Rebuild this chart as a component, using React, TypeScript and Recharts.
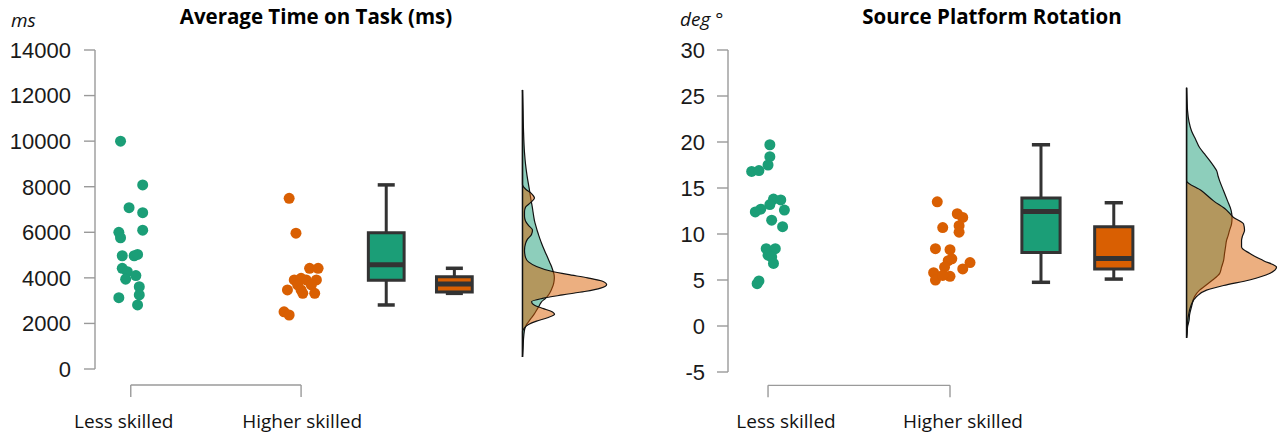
import React from 'react';
import { ComposedChart, Scatter, Area, XAxis, YAxis, ReferenceLine, ReferenceArea } from 'recharts';

const GREEN = '#1b9e77';
const ORANGE = '#d95f02';
const DARK = '#333333';
const AXIS_GRAY = '#9a9a9a';

const GROUPS = ['Less skilled', 'Higher skilled'];
const BOX_POS = [2.5, 2.9];
const DENS_BASE = 3.3;

// ---------- Panel 1: Average Time on Task ----------
const TIME_TITLE = 'Average Time on Task (ms)';
const TIME_UNIT = 'ms';
const TIME_TICKS = [0, 2000, 4000, 6000, 8000, 10000, 12000, 14000];
const TIME_LESS = [
  { x: 0.94, v: 10000 }, { x: 1.07, v: 8080 }, { x: 0.99, v: 7080 }, { x: 1.07, v: 6860 },
  { x: 1.07, v: 6090 }, { x: 0.93, v: 6000 }, { x: 0.94, v: 5760 }, { x: 0.95, v: 4970 },
  { x: 1.02, v: 4970 }, { x: 1.04, v: 5030 }, { x: 0.95, v: 4420 }, { x: 0.98, v: 4270 },
  { x: 1.03, v: 4100 }, { x: 0.97, v: 3940 }, { x: 1.05, v: 3610 }, { x: 1.05, v: 3250 },
  { x: 0.93, v: 3130 }, { x: 1.04, v: 2810 },
];
const TIME_HIGHER = [
  { x: 1.93, v: 7490 }, { x: 1.97, v: 5960 }, { x: 2.05, v: 4420 }, { x: 2.1, v: 4420 },
  { x: 1.96, v: 3910 }, { x: 2.0, v: 3980 }, { x: 2.03, v: 3910 }, { x: 2.09, v: 3910 },
  { x: 2.06, v: 3690 }, { x: 1.98, v: 3690 }, { x: 2.0, v: 3470 }, { x: 2.08, v: 3320 },
  { x: 2.01, v: 3320 }, { x: 1.92, v: 3470 }, { x: 1.9, v: 2510 }, { x: 1.93, v: 2370 },
];
const TIME_BOX_LESS = { min: 2810, q1: 3900, median: 4570, q3: 5980, max: 8080 };
const TIME_BOX_HIGHER = { min: 3320, q1: 3380, median: 3730, q3: 4050, max: 4420 };
const TIME_DENS = [
  { v: 12250, less: 0, higher: 0 }, { v: 11500, less: 0.5, higher: 0 }, { v: 10500, less: 1, higher: 0 },
  { v: 9500, less: 2, higher: 0 }, { v: 9000, less: 3, higher: 0 }, { v: 8500, less: 4.5, higher: 0 },
  { v: 8100, less: 6, higher: 0 }, { v: 7900, less: 6.8, higher: 3 }, { v: 7700, less: 7.5, higher: 9 },
  { v: 7500, less: 8.2, higher: 12 }, { v: 7300, less: 9, higher: 8 }, { v: 7100, less: 9.8, higher: 3 },
  { v: 6900, less: 10.5, higher: 2 }, { v: 6700, less: 11.2, higher: 2 }, { v: 6500, less: 12, higher: 3 },
  { v: 6300, less: 13.2, higher: 6 }, { v: 6100, less: 14.5, higher: 10 }, { v: 5900, less: 16, higher: 9 },
  { v: 5700, less: 17.5, higher: 5 }, { v: 5500, less: 19.2, higher: 3 }, { v: 5200, less: 22, higher: 2 },
  { v: 4900, less: 25, higher: 3 }, { v: 4700, less: 27, higher: 6 }, { v: 4500, less: 29, higher: 14 },
  { v: 4300, less: 30.5, higher: 28 }, { v: 4150, less: 31.5, higher: 45 }, { v: 4000, less: 31.8, higher: 65 },
  { v: 3850, less: 31.5, higher: 80 }, { v: 3700, less: 30.8, higher: 84 }, { v: 3550, less: 29.5, higher: 78 },
  { v: 3400, less: 28, higher: 62 }, { v: 3250, less: 26, higher: 40 }, { v: 3100, less: 23, higher: 20 },
  { v: 2950, less: 19, higher: 9 }, { v: 2800, less: 17, higher: 12 }, { v: 2650, less: 15, higher: 21 },
  { v: 2500, less: 13, higher: 30 }, { v: 2400, less: 11.5, higher: 32 }, { v: 2250, less: 9, higher: 25 },
  { v: 2100, less: 6.5, higher: 14 }, { v: 1950, less: 4, higher: 6 }, { v: 1800, less: 2.5, higher: 2 },
  { v: 1650, less: 1.8, higher: 0 }, { v: 1300, less: 1, higher: 0 }, { v: 900, less: 0.6, higher: 0 },
  { v: 530, less: 0, higher: 0 },
];

// ---------- Panel 2: Source Platform Rotation ----------
const ROT_TITLE = 'Source Platform Rotation';
const ROT_UNIT = 'deg °';
const ROT_TICKS = [-5, 0, 5, 10, 15, 20, 25, 30];
const ROT_LESS = [
  { x: 1.01, v: 19.7 }, { x: 1.01, v: 18.4 }, { x: 1.0, v: 17.5 }, { x: 0.91, v: 16.8 },
  { x: 0.95, v: 16.9 }, { x: 1.03, v: 13.8 }, { x: 1.07, v: 13.7 }, { x: 1.01, v: 13.2 },
  { x: 0.96, v: 12.7 }, { x: 0.93, v: 12.4 }, { x: 1.09, v: 12.6 }, { x: 1.02, v: 11.5 },
  { x: 1.08, v: 10.8 }, { x: 0.99, v: 8.4 }, { x: 1.04, v: 8.4 }, { x: 1.0, v: 7.7 },
  { x: 1.02, v: 7.5 }, { x: 1.03, v: 6.8 }, { x: 0.95, v: 4.9 }, { x: 0.94, v: 4.6 },
];
const ROT_HIGHER = [
  { x: 1.93, v: 13.5 }, { x: 2.04, v: 12.2 }, { x: 2.07, v: 11.8 }, { x: 1.96, v: 10.7 },
  { x: 2.05, v: 10.9 }, { x: 2.05, v: 10.2 }, { x: 1.92, v: 8.4 }, { x: 2.0, v: 8.3 },
  { x: 1.99, v: 7.1 }, { x: 1.97, v: 6.4 }, { x: 2.11, v: 6.9 }, { x: 2.07, v: 6.2 },
  { x: 1.91, v: 5.8 }, { x: 1.92, v: 5.0 }, { x: 2.0, v: 5.4 }, { x: 1.96, v: 5.5 },
  { x: 2.01, v: 7.3 },
];
const ROT_BOX_LESS = { min: 4.75, q1: 8.0, median: 12.45, q3: 13.9, max: 19.7 };
const ROT_BOX_HIGHER = { min: 5.1, q1: 6.2, median: 7.35, q3: 10.8, max: 13.4 };
const ROT_DENS = [
  { v: 25.9, less: 0, higher: 0 }, { v: 24.5, less: 0.5, higher: 0 }, { v: 23.4, less: 1, higher: 0 },
  { v: 22.2, less: 2.5, higher: 0 }, { v: 21.2, less: 5, higher: 0 }, { v: 20.3, less: 9, higher: 0 },
  { v: 19.4, less: 13, higher: 0 }, { v: 18.7, less: 18, higher: 0 }, { v: 18.0, less: 23, higher: 0 },
  { v: 17.4, less: 27, higher: 0 }, { v: 16.9, less: 30, higher: 0 }, { v: 16.3, less: 31.5, higher: 0 },
  { v: 15.8, less: 33, higher: 0 }, { v: 14.7, less: 37, higher: 15 }, { v: 13.6, less: 41, higher: 27 },
  { v: 12.6, less: 44.5, higher: 40 }, { v: 11.8, less: 45.5, higher: 47 }, { v: 11.1, less: 45, higher: 57 },
  { v: 10.4, less: 43, higher: 58 }, { v: 9.8, less: 41.5, higher: 56 }, { v: 9.3, less: 40, higher: 55 },
  { v: 8.6, less: 39, higher: 55 }, { v: 7.9, less: 38, higher: 63 }, { v: 7.1, less: 37, higher: 77 },
  { v: 6.4, less: 35, higher: 90 }, { v: 5.7, less: 33, higher: 83 }, { v: 5.0, less: 26, higher: 63 },
  { v: 4.4, less: 19, higher: 37 }, { v: 3.9, less: 13, higher: 20 }, { v: 3.2, less: 8, higher: 10 },
  { v: 2.1, less: 5, higher: 4 }, { v: 1.2, less: 3, higher: 2 }, { v: 0.6, less: 2.5, higher: 1.2 },
  { v: -0.1, less: 1, higher: 0.8 }, { v: -0.8, less: 0.5, higher: 0.4 }, { v: -1.3, less: 0, higher: 0 },
];

type Pt = { x: number; v: number };
type Box = { min: number; q1: number; median: number; q3: number; max: number };
type Dens = { v: number; less: number; higher: number };

const TICK_FONT = { fontFamily: '"Liberation Sans", Arial, sans-serif', fontSize: 22, fill: '#1a1a1a' };

function dotShape(color: string) {
  return (p: any) => <circle cx={p.cx} cy={p.cy} r={5.5} fill={color} stroke="none" />;
}

function boxElements(b: Box, pos: number, color: string, key: string) {
  const half = 0.105;
  const cap = 0.05;
  return [
    <ReferenceLine key={key + 'wu'} segment={[{ x: pos, y: b.q3 }, { x: pos, y: b.max }]} stroke={DARK} strokeWidth={3} ifOverflow="visible" />,
    <ReferenceLine key={key + 'wl'} segment={[{ x: pos, y: b.q1 }, { x: pos, y: b.min }]} stroke={DARK} strokeWidth={3} ifOverflow="visible" />,
    <ReferenceLine key={key + 'cu'} segment={[{ x: pos - cap, y: b.max }, { x: pos + cap, y: b.max }]} stroke={DARK} strokeWidth={3.5} ifOverflow="visible" />,
    <ReferenceLine key={key + 'cl'} segment={[{ x: pos - cap, y: b.min }, { x: pos + cap, y: b.min }]} stroke={DARK} strokeWidth={3.5} ifOverflow="visible" />,
    <ReferenceArea key={key + 'b'} x1={pos - half} x2={pos + half} y1={b.q1} y2={b.q3} fill={color} fillOpacity={1} stroke={DARK} strokeWidth={3} ifOverflow="visible" />,
    <ReferenceLine key={key + 'm'} segment={[{ x: pos - half, y: b.median }, { x: pos + half, y: b.median }]} stroke={DARK} strokeWidth={5} ifOverflow="visible" />,
  ];
}

function Panel(props: {
  width: number; ticks: number[]; yDomain: [number, number]; xDomain: [number, number];
  less: Pt[]; higher: Pt[]; boxLess: Box; boxHigher: Box; dens: Dens[]; densScale: number;
  bracket: [number, number]; yAxisWidth: number; tickMargin: number; marginBottom: number; labelOffset: number;
  labelDx: number[];
}) {
  const p = props;
  const densTop = p.dens[0].v;
  const densBottom = p.dens[p.dens.length - 1].v;
  const CatTick = (t: any) => {
    const i = Math.round(t.payload.value) - 1;
    return (
      <text x={t.x + p.labelDx[i]} y={t.y + p.labelOffset} textAnchor="middle" fontFamily='"Open Sans", sans-serif' fontSize={19} fill="#111">
        {GROUPS[i]}
      </text>
    );
  };
  return (
    <ComposedChart
      width={p.width}
      height={436}
      layout="vertical"
      data={p.dens}
      margin={{ top: 50, right: 0, bottom: p.marginBottom, left: 0 }}
    >
      <XAxis
        type="number"
        dataKey="x"
        domain={p.xDomain}
        allowDataOverflow
        ticks={[1, 2]}
        tick={CatTick}
        axisLine={false}
        tickLine={false}
        tickSize={0}
        tickMargin={0}
        height={60}
        interval={0}
      />
      <YAxis
        type="number"
        dataKey="v"
        reversed
        domain={p.yDomain}
        allowDataOverflow
        ticks={p.ticks}
        interval={0}
        width={p.yAxisWidth}
        tick={TICK_FONT}
        tickSize={11}
        tickMargin={p.tickMargin}
        axisLine={{ stroke: AXIS_GRAY, strokeWidth: 1.4 }}
        tickLine={{ stroke: AXIS_GRAY, strokeWidth: 1.4 }}
      />
      <Area
        type="monotone"
        dataKey={(r: Dens) => DENS_BASE + r.less * p.densScale}
        baseValue={DENS_BASE}
        fill={GREEN}
        fillOpacity={0.5}
        stroke="#111"
        strokeWidth={1.2}
        dot={false}
        activeDot={false}
        isAnimationActive={false}
      />
      <Area
        type="monotone"
        dataKey={(r: Dens) => DENS_BASE + r.higher * p.densScale}
        baseValue={DENS_BASE}
        fill={ORANGE}
        fillOpacity={0.5}
        stroke="#111"
        strokeWidth={1.2}
        dot={false}
        activeDot={false}
        isAnimationActive={false}
      />
      <ReferenceLine segment={[{ x: DENS_BASE, y: densTop }, { x: DENS_BASE, y: densBottom }]} stroke="#111" strokeWidth={1.5} ifOverflow="visible" />
      <Scatter data={p.less} fill={GREEN} shape={dotShape(GREEN)} isAnimationActive={false} />
      <Scatter data={p.higher} fill={ORANGE} shape={dotShape(ORANGE)} isAnimationActive={false} />
      {boxElements(p.boxLess, BOX_POS[0], GREEN, 'l')}
      {boxElements(p.boxHigher, BOX_POS[1], ORANGE, 'h')}
      <ReferenceLine segment={[{ x: 1, y: p.bracket[0] }, { x: 2, y: p.bracket[0] }]} stroke={AXIS_GRAY} strokeWidth={1.4} ifOverflow="visible" />
      <ReferenceLine segment={[{ x: 1, y: p.bracket[0] }, { x: 1, y: p.bracket[1] }]} stroke={AXIS_GRAY} strokeWidth={1.4} ifOverflow="visible" />
      <ReferenceLine segment={[{ x: 2, y: p.bracket[0] }, { x: 2, y: p.bracket[1] }]} stroke={AXIS_GRAY} strokeWidth={1.4} ifOverflow="visible" />
    </ComposedChart>
  );
}

export default function App() {
  return (
    <div style={{ position: 'absolute', left: 0, top: 0, width: 1283, height: 436, background: '#fff', overflow: 'hidden' }}>
      <div style={{ position: 'absolute', left: 0, top: 0 }}>
        <Panel
          width={640}
          ticks={TIME_TICKS}
          yDomain={[0, 14000]}
          xDomain={[0.79, 3.99]}
          less={TIME_LESS}
          higher={TIME_HIGHER}
          boxLess={TIME_BOX_LESS}
          boxHigher={TIME_BOX_HIGHER}
          dens={TIME_DENS}
          densScale={1 / 170}
          bracket={[-700, -1230]}
          yAxisWidth={95}
          tickMargin={13}
          marginBottom={7}
          labelOffset={59}
          labelDx={[-7, 1]}
        />
      </div>
      <div style={{ position: 'absolute', left: 640, top: 0 }}>
        <Panel
          width={643}
          ticks={ROT_TICKS}
          yDomain={[-5, 30]}
          xDomain={[0.78, 3.83]}
          less={ROT_LESS}
          higher={ROT_HIGHER}
          boxLess={ROT_BOX_LESS}
          boxHigher={ROT_BOX_HIGHER}
          dens={ROT_DENS}
          densScale={1 / 182}
          bracket={[-6.45, -7.75]}
          yAxisWidth={88}
          tickMargin={12}
          marginBottom={4}
          labelOffset={56}
          labelDx={[18, 13]}
        />
      </div>
      <svg width={1283} height={436} style={{ position: 'absolute', left: 0, top: 0, pointerEvents: 'none' }}>
        <text x={316} y={24} textAnchor="middle" fontFamily='"Open Sans", sans-serif' fontWeight={700} fontSize={20.5} fill="#000">{TIME_TITLE}</text>
        <text x={11} y={27} fontFamily='"Open Sans", sans-serif' fontStyle="italic" fontSize={19} fill="#111">{TIME_UNIT}</text>
        <text x={992} y={24} textAnchor="middle" fontFamily='"Open Sans", sans-serif' fontWeight={700} fontSize={20.5} fill="#000">{ROT_TITLE}</text>
        <text x={680} y={26} fontFamily='"Open Sans", sans-serif' fontStyle="italic" fontSize={19} fill="#111">{ROT_UNIT}</text>
      </svg>
    </div>
  );
}
